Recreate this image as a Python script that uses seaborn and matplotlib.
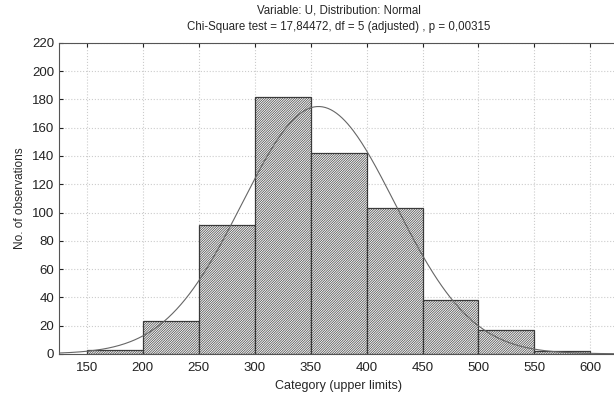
import numpy as np
import pandas as pd
import seaborn as sb
import matplotlib.pyplot as plt

# histogram data
bin_edges = [150, 200, 250, 300, 350, 400, 450, 500, 550, 600]
counts = [3, 23, 91, 182, 142, 103, 38, 17, 2]
x_ticks = [150, 200, 250, 300, 350, 400, 450, 500, 550, 600]
y_ticks = list(range(0, 221, 20))

# fitted normal
mu = 357.0
sigma = 68.5

sb.set_style('white')
plt.rcParams['font.family'] = ['Liberation Sans', 'DejaVu Sans']
plt.rcParams['hatch.color'] = '#8a8a8a'
plt.rcParams['hatch.linewidth'] = 0.45

df = pd.DataFrame({'mid': [(a + b) / 2 for a, b in zip(bin_edges[:-1], bin_edges[1:])],
                   'n': counts})

fig = plt.figure(figsize=(6.14, 3.94), dpi=100)
# right edge of the axes runs just past the figure, as in the reference
ax = fig.add_axes([0.096, 0.102, 0.911, 0.789])

sb.histplot(data=df, x='mid', weights='n', bins=bin_edges, ax=ax,
            color='#f4f4f4', edgecolor='#3a3a3a', linewidth=0.9,
            hatch='/' * 14, alpha=1, zorder=2)

# normal curve
xs = np.linspace(125, 625, 400)
total = sum(counts)
width = bin_edges[1] - bin_edges[0]
ys = total * width / (sigma * np.sqrt(2 * np.pi)) * np.exp(-0.5 * ((xs - mu) / sigma) ** 2)
sb.lineplot(x=xs, y=ys, ax=ax, color='#666666', linewidth=0.8, zorder=3)

ax.set_xlim(125, 625)
ax.set_ylim(0, 220)
ax.set_xticks(x_ticks)
ax.set_yticks(y_ticks)
ax.grid(True, color='#cccccc', linestyle=':', linewidth=0.8, zorder=0)
ax.set_axisbelow(True)
ax.tick_params(direction='in', length=3, labelsize=9.5, top=True, left=True,
               bottom=False, colors='#222222')
ax.tick_params(axis='x', pad=6)
ax.spines['right'].set_visible(False)
for s in ax.spines.values():
    s.set_color('#555555')
    s.set_linewidth(0.8)

ax.set_xlabel('Category (upper limits)', fontsize=9)
ax.set_ylabel('No. of observations', fontsize=8.5)
ax.set_title('Variable: U, Distribution: Normal\n'
             'Chi-Square test = 17,84472, df = 5 (adjusted) , p = 0,00315',
             fontsize=8.3, linespacing=1.55, pad=9)

fig.savefig('out.png', dpi=100)
